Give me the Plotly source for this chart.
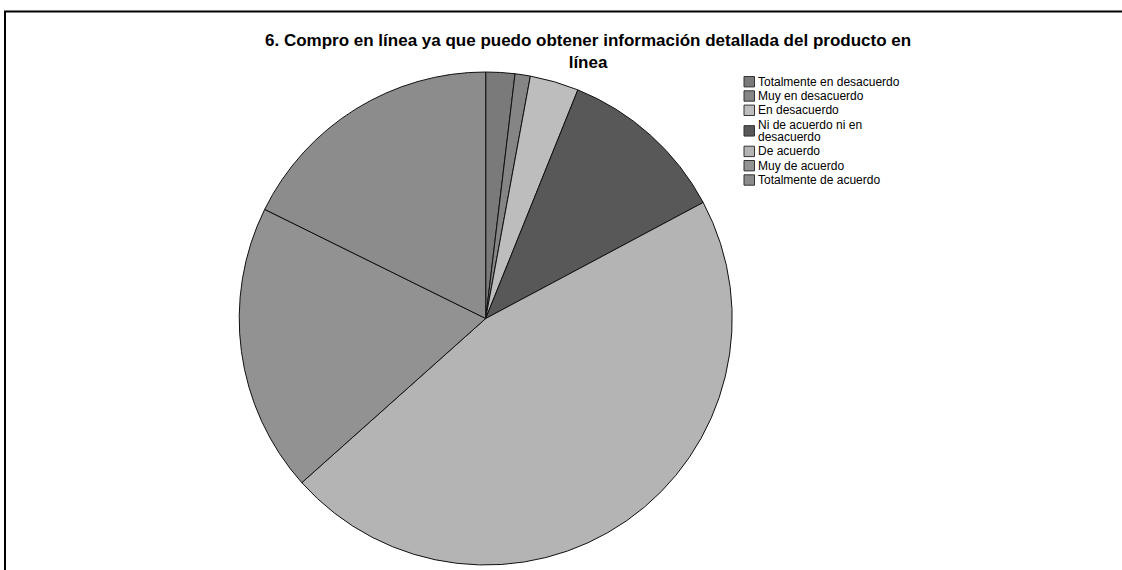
import plotly.graph_objects as go

# Survey item and response shares (percent)
title_text = "6. Compro en línea ya que puedo obtener información detallada del producto en<br>línea"
categories = [
    "Totalmente en desacuerdo",
    "Muy en desacuerdo",
    "En desacuerdo",
    "Ni de acuerdo ni en<br>desacuerdo",
    "De acuerdo",
    "Muy de acuerdo",
    "Totalmente de acuerdo",
]
percent = [1.9, 1.0, 3.2, 11.1, 46.2, 18.9, 17.7]
colors = ["#7a7a7a", "#858585", "#bdbdbd", "#585858", "#b4b4b4", "#929292", "#8c8c8c"]

W, H = 1122, 570
FONT = "Arial, Liberation Sans, sans-serif"


def px(x):
    return x / W


def py(y):
    return 1 - y / H


# pie geometry in pixels
cx, cy, r = 485.7, 318.5, 246.5

fig = go.Figure(
    go.Pie(
        labels=categories,
        values=percent,
        sort=False,
        direction="clockwise",
        rotation=0,
        marker=dict(colors=colors, line=dict(color="#111111", width=1)),
        textinfo="none",
        hoverinfo="label+percent",
        showlegend=False,
        domain=dict(x=[px(cx - r), px(cx + r)], y=[py(cy + r), py(cy - r)]),
    )
)

annotations = []
shapes = []

# title (two lines)
annotations.append(dict(
    x=px(588), y=py(51), xref="paper", yref="paper",
    text="<b>" + title_text + "</b>", showarrow=False,
    xanchor="center", yanchor="middle", align="center",
    font=dict(family=FONT, size=17, color="#000000"),
))

# legend: swatches and labels
item_step = 14.3
line_step = 12.5
y = 81.7
for name, col in zip(categories, colors):
    parts = name.split("<br>")
    ycenter = y + (len(parts) - 1) * line_step / 2
    shapes.append(dict(
        type="rect", xref="paper", yref="paper",
        x0=px(744), x1=px(754.5), y0=py(ycenter - 5.2), y1=py(ycenter + 5.2),
        fillcolor=col, line=dict(color="#333333", width=1),
    ))
    for j, part in enumerate(parts):
        annotations.append(dict(
            x=px(756), y=py(y + j * line_step), xref="paper", yref="paper",
            text=part, showarrow=False, xanchor="left", yanchor="middle",
            font=dict(family=FONT, size=12, color="#000000"),
        ))
    y += (len(parts) - 1) * line_step + item_step

# frame lines (top and left)
shapes.append(dict(type="line", xref="paper", yref="paper",
                   x0=px(4), x1=1, y0=py(11.5), y1=py(11.5),
                   line=dict(color="#000000", width=2)))
shapes.append(dict(type="line", xref="paper", yref="paper",
                   x0=px(5), x1=px(5), y0=py(11.5), y1=0,
                   line=dict(color="#000000", width=2)))

fig.update_layout(
    width=W, height=H,
    margin=dict(l=0, r=0, t=0, b=0),
    paper_bgcolor="#ffffff", plot_bgcolor="#ffffff",
    annotations=annotations, shapes=shapes,
    showlegend=False,
)

fig.write_html("out.html")
